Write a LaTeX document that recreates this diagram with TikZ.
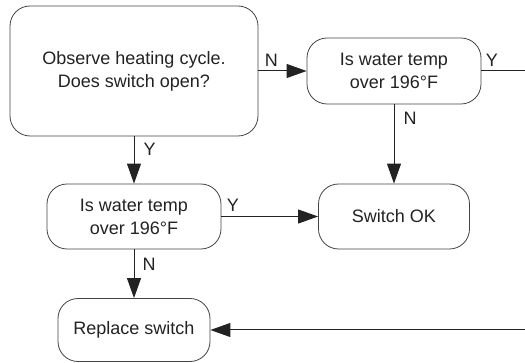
\documentclass[tikz,border=0pt]{standalone}
\usepackage{fontspec}
\setmainfont{Liberation Sans}
\usepackage{tikz}
\usetikzlibrary{arrows.meta,positioning}
\definecolor{ink}{RGB}{34,34,34}
\tikzset{
    % rounded boxes of the chart
    stepbox/.style={
        draw=ink!85,
        line width=0.8pt,
        rounded corners=20pt,
        inner sep=0pt,
        align=center,
        text=ink,
        font=\fontsize{18}{23}\selectfont
    },
    flow/.style={
        line width=1pt,
        ink,
        -{Triangle[length=20pt, width=14pt]}
    },
    plainflow/.style={
        line width=1pt,
        ink
    },
    lbl/.style={
        inner sep=2pt,
        text=ink,
        font=\fontsize{18}{23}\selectfont
    }
}

\begin{document}
\begin{tikzpicture}[x=1pt, y=-1pt]
	\useasboundingbox (0,0) rectangle (525,363);

	\node[stepbox, minimum width=248pt, minimum height=130pt] (observe) at (134,71) {Observe heating cycle.\\Does switch open?};
	\node[stepbox, minimum width=174pt, minimum height=66pt] (tempa) at (394,71) {Is water temp\\over 196°F};
	\node[stepbox, minimum width=174pt, minimum height=65pt] (tempb) at (134,216.5) {Is water temp\\over 196°F};
	\node[stepbox, minimum width=151pt, minimum height=65pt] (ok) at (394,216.5) {Switch OK};
	\node[stepbox, minimum width=152pt, minimum height=63pt] (replace) at (134,330) {Replace switch};

	\coordinate (outa) at (525,71);
	\coordinate (inb) at (525,330);

	\draw[flow] (observe) -- node[lbl, pos=0, anchor=south west, xshift=4pt, yshift=2pt] (lobsn) {N} (tempa);
	\draw[flow] (observe) -- node[lbl, pos=0, anchor=north west, xshift=7pt, yshift=-4pt] (lobsy) {Y} (tempb);
	\draw[plainflow] (tempa) -- node[lbl, pos=0, anchor=south west, xshift=2pt, yshift=2pt] (ltay) {Y} (outa);
	\draw[flow] (tempa) -- node[lbl, pos=0, anchor=north west, xshift=7pt, yshift=-5pt] (ltan) {N} (ok);
	\draw[flow] (tempb) -- node[lbl, pos=0, anchor=south west, xshift=3pt, yshift=2pt] (ltby) {Y} (ok);
	\draw[flow] (tempb) -- node[lbl, pos=0, anchor=north west, xshift=6pt, yshift=-6pt] (ltbn) {N} (replace);
	\draw[flow] (inb) -- (replace);
\end{tikzpicture}
\end{document}
